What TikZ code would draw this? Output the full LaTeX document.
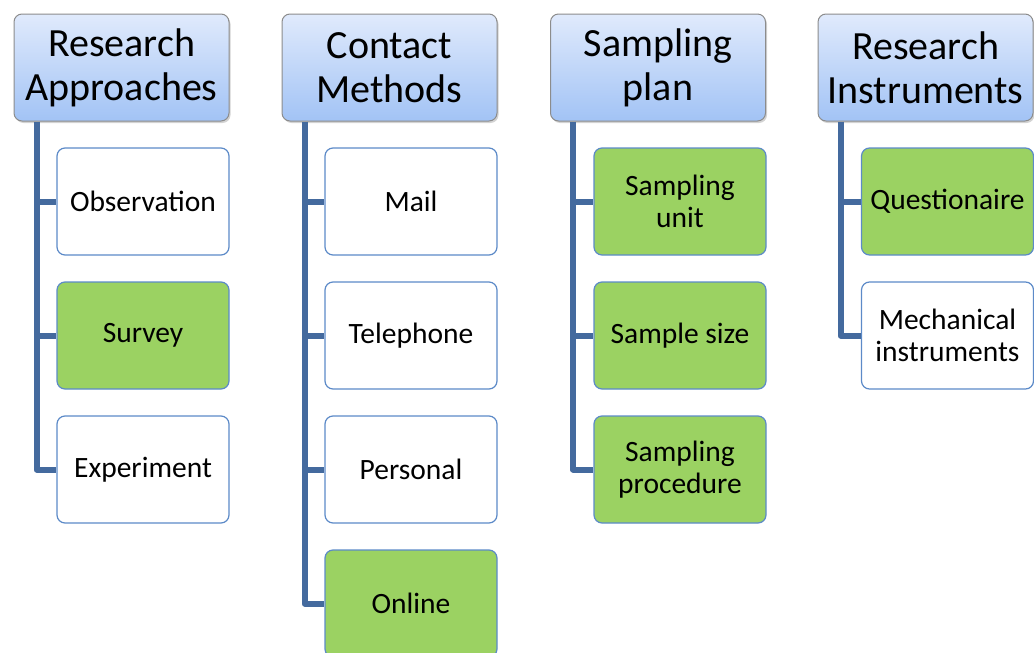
\documentclass[tikz,border=0pt]{standalone}
\usepackage{fontspec}
\setmainfont{Carlito}
\usetikzlibrary{shadows}
\definecolor{trunk}{RGB}{68,106,158}
\definecolor{cborder}{RGB}{92,138,200}
\definecolor{hborder}{RGB}{140,140,140}
\definecolor{htop}{RGB}{224,234,252}
\definecolor{hbot}{RGB}{162,195,245}
\definecolor{leafgreen}{RGB}{155,210,98}
\tikzset{
  head/.style={draw=hborder, line width=1pt, rounded corners=8pt, top color=htop, bottom color=hbot,
    minimum width=215pt, minimum height=107pt, align=center, inner sep=0pt,
    font=\fontsize{40}{44}\selectfont, drop shadow={shadow xshift=1.5pt, shadow yshift=-2pt, opacity=0.35}},
  leaf/.style={draw=cborder, line width=1.2pt, rounded corners=8pt, fill=white,
    minimum width=172pt, minimum height=107pt, align=center, inner sep=0pt,
    font=\fontsize{29.5}{32}\selectfont},
  sel/.style={leaf, fill=leafgreen},
  conn/.style={draw=trunk, line width=6pt, line join=round, line cap=butt}
}
\begin{document}
\begin{tikzpicture}[x=1pt,y=-1pt]
\useasboundingbox (0,0) rectangle (1034,653);
% headers
\node[head] (h1) at (121.5,67.5) {Research\\Approaches};
\node[head] (h2) at (389.5,67.5) {Contact\\Methods};
\node[head] (h3) at (658,67.5) {Sampling\\plan};
\node[head] (h4) at (925.5,67.5) {Research\\Instruments};
% column 1
\node[leaf] (a1) at (143,201.5) {Observation};
\node[sel]  (a2) at (143,335.5) {Survey};
\node[leaf] (a3) at (143,469.5) {Experiment};
% column 2
\node[leaf] (b1) at (411,201.5) {Mail};
\node[leaf] (b2) at (411,335.5) {Telephone};
\node[leaf] (b3) at (411,469.5) {Personal};
\node[sel]  (b4) at (411,603.5) {Online};
% column 3
\node[sel] (c1) at (680,201.5) {Sampling\\unit};
\node[sel] (c2) at (680,335.5) {Sample size};
\node[sel] (c3) at (680,469.5) {Sampling\\procedure};
% column 4
\node[sel]  (d1) at (947.5,201.5) {Questionaire};
\node[leaf] (d2) at (947.5,335.5) {Mechanical\\instruments};
% connectors
\draw[conn] ([xshift=23pt]h1.south west) |- (a3.west);
\draw[conn] ([xshift=23pt]h1.south west |- a1.west) -- (a1.west);
\draw[conn] ([xshift=23pt]h1.south west |- a2.west) -- (a2.west);
\draw[conn] ([xshift=23pt]h2.south west) |- (b4.west);
\draw[conn] ([xshift=23pt]h2.south west |- b1.west) -- (b1.west);
\draw[conn] ([xshift=23pt]h2.south west |- b2.west) -- (b2.west);
\draw[conn] ([xshift=23pt]h2.south west |- b3.west) -- (b3.west);
\draw[conn] ([xshift=23pt]h3.south west) |- (c3.west);
\draw[conn] ([xshift=23pt]h3.south west |- c1.west) -- (c1.west);
\draw[conn] ([xshift=23pt]h3.south west |- c2.west) -- (c2.west);
\draw[conn] ([xshift=23pt]h4.south west) |- (d2.west);
\draw[conn] ([xshift=23pt]h4.south west |- d1.west) -- (d1.west);
\end{tikzpicture}
\end{document}
